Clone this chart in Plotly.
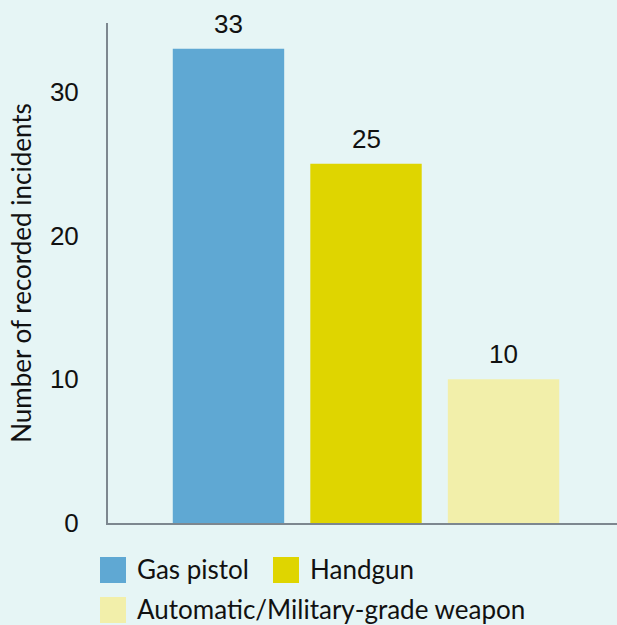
import plotly.graph_objects as go

categories = ["Gas pistol", "Handgun", "Automatic/Military-grade weapon"]
values = [33, 25, 10]
colors = ["#5fa8d3", "#dfd500", "#f2efaa"]
y_title = "Number of recorded incidents"
y_ticks = [0, 10, 20, 30]

W, H = 617, 625
L, R, T, B = 108, 0, 23, 102
PW, PH = W - L - R, H - T - B
FS = 26

def px_x(x):
    return (x - L) / PW

def px_y(y):
    return (H - B - y) / PH

fig = go.Figure()
for i, (c, v, col) in enumerate(zip(categories, values, colors)):
    fig.add_trace(go.Bar(x=[c], y=[v], name=c, marker=dict(color=col, line=dict(width=0)),
                         width=0.81, showlegend=False, hoverinfo="x+y"))
    fig.add_annotation(x=c, y=v, text=str(v), showarrow=False, yanchor="bottom",
                       yshift=8, font=dict(family="Liberation Sans, Arial", size=FS, color="#111"))

# custom legend (larger square swatches)
legend_items = [(0, 100, 570), (1, 273, 570), (2, 100, 610)]
for idx, lx, ly in legend_items:
    fig.add_shape(type="rect", xref="paper", yref="paper",
                  x0=px_x(lx), x1=px_x(lx + 26), y0=px_y(ly - 13), y1=px_y(ly + 13),
                  fillcolor=colors[idx], line=dict(width=0), layer="above")
    fig.add_annotation(xref="paper", yref="paper", x=px_x(lx + 35), y=px_y(ly - 1),
                       xanchor="left", yanchor="middle", showarrow=False,
                       text=categories[idx], font=dict(family="Lato", size=FS, color="#111"))

fig.update_layout(
    width=W, height=H,
    margin=dict(l=L, r=R, t=T, b=B, autoexpand=False),
    paper_bgcolor="#e6f5f5", plot_bgcolor="#e6f5f5",
    barmode="overlay",
    font=dict(family="Lato", size=FS, color="#111"),
    xaxis=dict(type="category", range=[-0.876, 2.825], showticklabels=False, ticks="",
               showgrid=False, zeroline=False, showline=True, linecolor="#7d878f", linewidth=2),
    yaxis=dict(range=[0, 34.8], tickvals=y_ticks, showgrid=False, zeroline=False,
               showline=True, linecolor="#7d878f", linewidth=2, ticks="",
               ticklabelstandoff=22,
               tickfont=dict(family="Liberation Sans, Arial", size=FS, color="#111"),
               title=dict(text=y_title, font=dict(family="Lato", size=FS, color="#111"), standoff=11)),
)

fig.write_html("out.html", config={"displayModeBar": False},
               post_script="document.body.style.margin='0';document.body.style.background='#e6f5f5';document.body.style.overflow='hidden';")
